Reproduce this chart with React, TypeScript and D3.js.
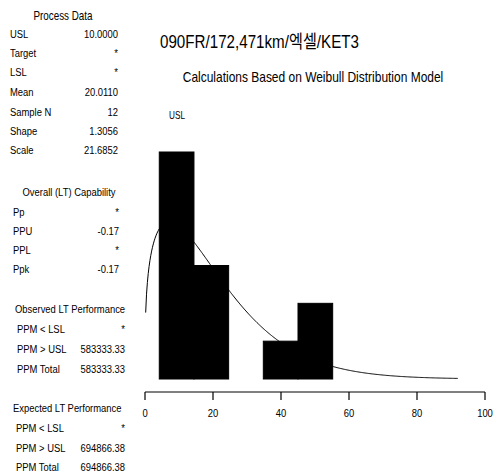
import React from "react";
import * as d3 from "d3";

const TITLE = "090FR/172,471km/엑셀/KET3";
const SUBTITLE = "Calculations Based on Weibull Distribution Model";

const PROCESS_LABELS = ["USL", "Target", "LSL", "Mean", "Sample N", "Shape", "Scale"];
const PROCESS_VALUES = ["10.0000", "*", "*", "20.0110", "12", "1.3056", "21.6852"];
const CAP_LABELS = ["Pp", "PPU", "PPL", "Ppk"];
const CAP_VALUES = ["*", "-0.17", "*", "-0.17"];
const PERF_LABELS = ["PPM < LSL", "PPM > USL", "PPM Total"];
const OBSERVED_VALUES = ["*", "583333.33", "583333.33"];
const EXPECTED_VALUES = ["*", "694866.38", "694866.38"];

const X_TICKS = [0, 20, 40, 60, 80, 100];
const BIN_EDGES = [4.2, 14.4, 24.6, 34.8, 45.0, 55.2];
const BIN_COUNTS = [6, 3, 0, 1, 2];
const SAMPLE_N = 12;
const SHAPE = 1.3056;
const SCALE = 21.6852;
const USL = 10;
const CURVE_RANGE = [0.2, 92];

const FONT = "'Liberation Sans', Arial, 'Noto Sans CJK KR', sans-serif";
const NARROW = 0.82;

function weibullPdf(t: number) {
  const z = t / SCALE;
  return (SHAPE / SCALE) * Math.pow(z, SHAPE - 1) * Math.exp(-Math.pow(z, SHAPE));
}

type NTextProps = {
  x: number;
  y: number;
  size?: number;
  anchor?: "start" | "middle" | "end";
  children: React.ReactNode;
};

function NText({ x, y, size, anchor = "start", children }: NTextProps) {
  return (
    <text
      transform={`translate(${x},${y}) scale(${NARROW},1)`}
      textAnchor={anchor}
      fontSize={size}
    >
      {children}
    </text>
  );
}

export default function App() {
  const x = d3.scaleLinear().domain([0, 100]).range([145, 485]);
  const y = d3.scaleLinear().domain([0, 6]).range([379, 152]);
  const binWidth = BIN_EDGES[1] - BIN_EDGES[0];

  const samples = d3.range(CURVE_RANGE[0], CURVE_RANGE[1], 0.25).concat([CURVE_RANGE[1]]);
  const line = d3
    .line<number>()
    .x((t) => x(t))
    .y((t) => y(weibullPdf(t) * SAMPLE_N * binWidth));

  const rowText = (label: string, value: string, cy: number, lx: number, vx: number, key: string) => (
    <g key={key}>
      <NText x={lx} y={cy + 4}>{label}</NText>
      <NText x={vx} y={cy + 4} anchor="end">{value}</NText>
    </g>
  );

  const processY = [34, 53, 72, 92, 112, 131, 150];
  const capY = [212, 231, 250, 269];
  const obsY = [329, 349, 369];
  const expY = [428, 448, 467];

  return (
    <svg
      width={494}
      height={476}
      style={{ position: "absolute", left: 0, top: 0, background: "#fff" }}
      fontFamily={FONT}
      fill="#000"
    >
      <g fontSize={11.5}>
        <NText x={63} y={20} anchor="middle" size={12}>Process Data</NText>
        {PROCESS_LABELS.map((l, i) => rowText(l, PROCESS_VALUES[i], processY[i], 10, 118, "p" + i))}
        <NText x={69} y={196} anchor="middle">Overall (LT) Capability</NText>
        {CAP_LABELS.map((l, i) => rowText(l, CAP_VALUES[i], capY[i], 13, 119, "c" + i))}
        <NText x={15} y={313}>Observed LT Performance</NText>
        {PERF_LABELS.map((l, i) => rowText(l, OBSERVED_VALUES[i], obsY[i], 17, 125, "o" + i))}
        <NText x={13} y={412}>Expected LT Performance</NText>
        {PERF_LABELS.map((l, i) => rowText(l, EXPECTED_VALUES[i], expY[i], 16, 125, "e" + i))}
      </g>

      <NText x={160} y={48} size={18.5}>{TITLE}</NText>
      <NText x={313} y={82} size={14.6} anchor="middle">{SUBTITLE}</NText>

      <NText x={x(USL) - 2} y={119} size={10} anchor="middle">USL</NText>

      {BIN_COUNTS.map((c, i) => (
        <rect
          key={i}
          x={x(BIN_EDGES[i])}
          y={y(c)}
          width={x(BIN_EDGES[i + 1]) - x(BIN_EDGES[i])}
          height={y(0) - y(c)}
          fill="#000"
          stroke="#000"
          strokeWidth={1}
        />
      ))}

      <path d={line(samples) || ""} fill="none" stroke="#000" strokeWidth={1} />

      <g>
        <line x1={x(0)} x2={x(100)} y1={392} y2={392} stroke="#000" strokeWidth={1} />
        {X_TICKS.map((t) => (
          <g key={t}>
            <line x1={x(t)} x2={x(t)} y1={392} y2={400} stroke="#000" strokeWidth={1.2} />
            <NText x={x(t)} y={417} size={11.5} anchor="middle">{t}</NText>
          </g>
        ))}
      </g>
    </svg>
  );
}
